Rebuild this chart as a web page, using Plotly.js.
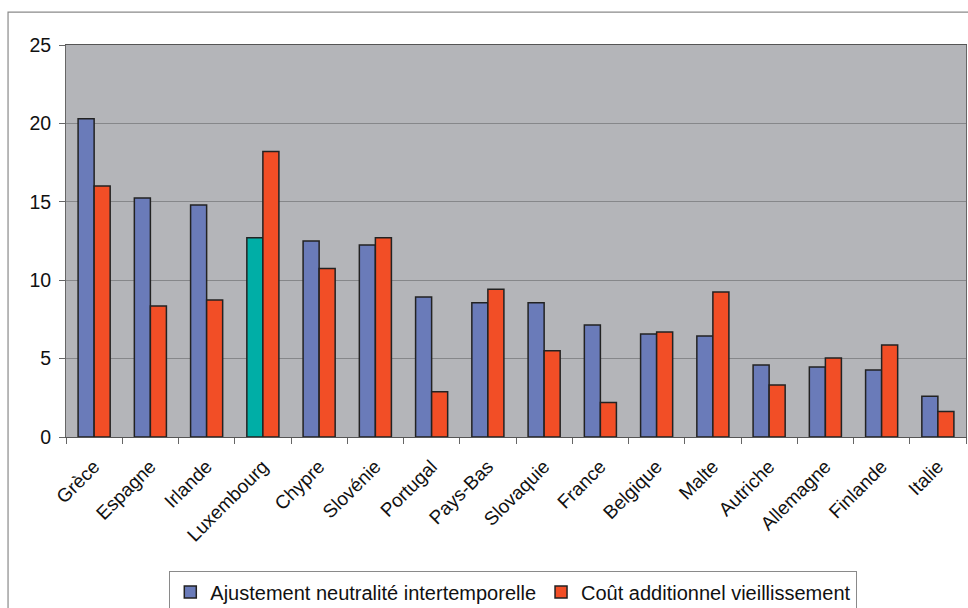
<!DOCTYPE html>
<html>
<head>
<meta charset="utf-8">
<script src="https://cdn.plot.ly/plotly-3.0.1.min.js"></script>
<style>
  html, body { margin: 0; padding: 0; background: #ffffff; }
  #chart { width: 968px; height: 608px; }
</style>
</head>
<body>
<div id="chart"></div>
<script>
// Pays de la zone euro
const pays = ["Grèce", "Espagne", "Irlande", "Luxembourg", "Chypre", "Slovénie", "Portugal",
  "Pays-Bas", "Slovaquie", "France", "Belgique", "Malte", "Autriche", "Allemagne", "Finlande", "Italie"];

// Ajustement neutralité intertemporelle
const ajustement = [20.3, 15.25, 14.8, 12.7, 12.5, 12.25, 8.93, 8.56, 8.56, 7.14, 6.57, 6.44, 4.59, 4.46, 4.27, 2.6];

// Coût additionnel vieillissement
const coutVieillissement = [16.0, 8.35, 8.74, 18.2, 10.75, 12.7, 2.88, 9.43, 5.5, 2.2, 6.7, 9.25, 3.32, 5.04, 5.87, 1.62];

const nomsSeries = ["Ajustement neutralité intertemporelle", "Coût additionnel vieillissement"];

const bleu = "#6a7bb9";
const turquoise = "#00aea6";
const rouge = "#f24e26";

// Luxembourg mis en évidence
const couleursAjustement = pays.map(p => p === "Luxembourg" ? turquoise : bleu);

const contour = { color: "#222222", width: 1.5 };

const traces = [
  {
    type: "bar", name: nomsSeries[0], x: pays, y: ajustement,
    marker: { color: couleursAjustement, line: contour }
  },
  {
    type: "bar", name: nomsSeries[1], x: pays, y: coutVieillissement,
    marker: { color: rouge, line: contour }
  }
];

const police = { family: "Liberation Sans, Arial, sans-serif", color: "#111111" };

const layout = {
  width: 968, height: 608,
  margin: { l: 66, r: 2, t: 45, b: 171, autoexpand: false },
  paper_bgcolor: "#ffffff",
  plot_bgcolor: "#b4b5b9",
  barmode: "group",
  bargap: 0.43,
  bargroupgap: 0,
  font: police,
  showlegend: true,
  legend: {
    orientation: "h",
    x: 0.497, xanchor: "center",
    y: -0.343, yanchor: "top",
    bgcolor: "#ffffff",
    bordercolor: "#8a8a8a", borderwidth: 1,
    font: { family: police.family, size: 20, color: "#111111" },
    itemwidth: 30,
    traceorder: "normal"
  },
  xaxis: {
    type: "category",
    tickangle: -45,
    tickfont: { family: police.family, size: 19, color: "#111111" },
    ticks: "outside", tickson: "boundaries", ticklen: 6, tickcolor: "#666666",
    ticklabelstandoff: 10,
    showline: true, linecolor: "#555555", linewidth: 1, mirror: true,
    showgrid: false
  },
  yaxis: {
    range: [0, 25],
    tickvals: [0, 5, 10, 15, 20, 25],
    tickfont: { family: police.family, size: 19.5, color: "#111111" },
    ticks: "outside", ticklen: 6, tickcolor: "#666666",
    ticklabelstandoff: 4,
    showline: true, linecolor: "#666666", linewidth: 1, mirror: true,
    showgrid: true, gridcolor: "#86878a", gridwidth: 1,
    zeroline: false
  },
  shapes: [
    {
      // cadre extérieur du graphique
      type: "rect", xref: "paper", yref: "paper",
      x0: -0.0644, x1: 1.05, y0: -0.46, y1: 1.084,
      line: { color: "#8a8a8a", width: 1.2 }, fillcolor: "rgba(0,0,0,0)",
      layer: "below"
    }
  ]
};

Plotly.newPlot("chart", traces, layout, { displayModeBar: false, staticPlot: true });
</script>
</body>
</html>
